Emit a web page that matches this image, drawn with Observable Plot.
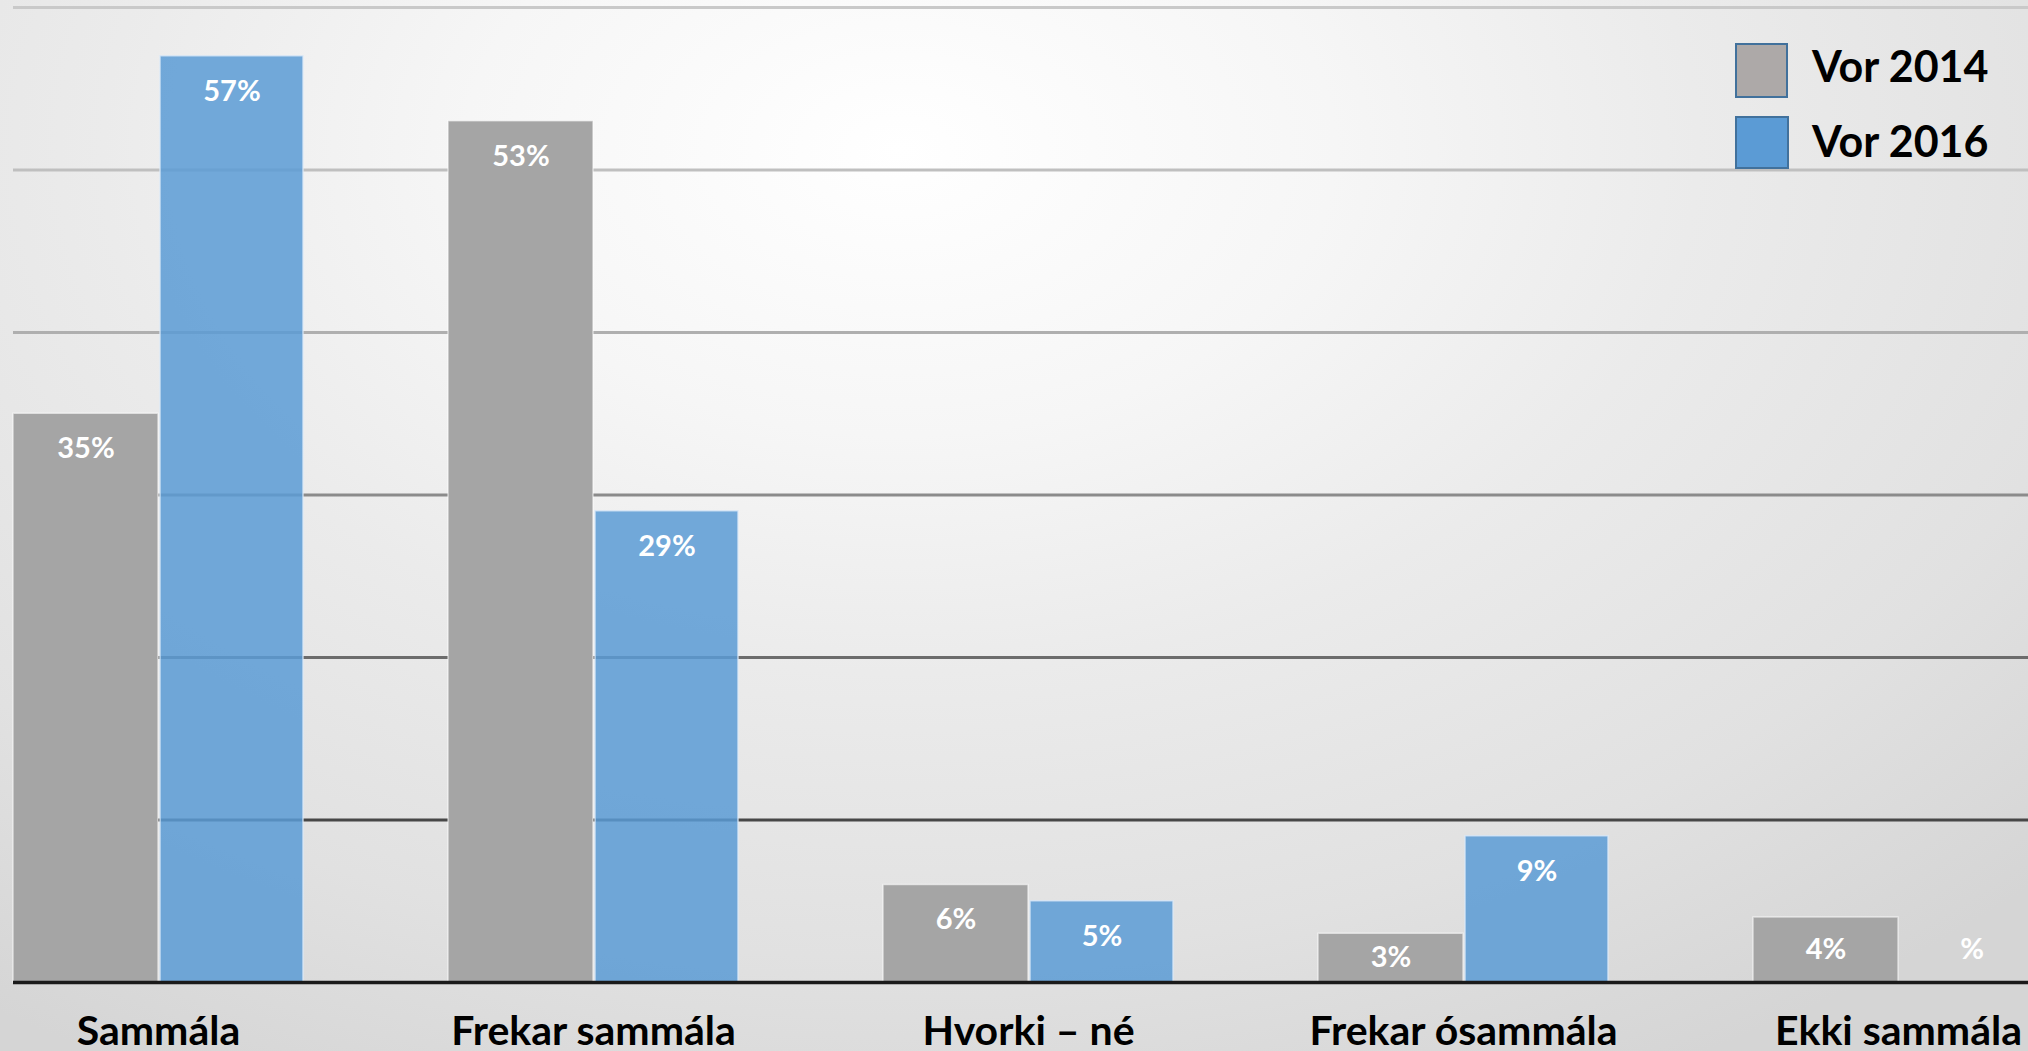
<!DOCTYPE html>
<html>
<head>
<meta charset="utf-8">
<script src="https://cdn.jsdelivr.net/npm/d3@7"></script>
<script src="https://cdn.jsdelivr.net/npm/@observablehq/plot@0.6"></script>
<style>
  html, body { margin: 0; padding: 0; overflow: hidden; }
  body {
    width: 2028px; height: 1051px; position: relative;
    background: radial-gradient(1450px 950px at 900px 150px, #ffffff 0%, #f6f6f6 30%, #ebebeb 55%, #e1e1e1 85%, #d5d5d5 110%);
    font-family: Lato, "Open Sans", sans-serif;
  }
  #chart { position: absolute; left: 0; top: 0; }
  .sw { position: absolute; box-sizing: border-box; border: 2px solid #41719C; }
  .lt { position: absolute; font: bold 43px/43px Lato, sans-serif; color: #000; white-space: nowrap; }
</style>
</head>
<body>
<div id="chart"></div>
<div class="sw" style="left:1735px;top:43px;width:53px;height:55px;background:#ADA9A8"></div>
<div class="lt" id="lt1" style="left:1812px;top:44px"></div>
<div class="sw" style="left:1735px;top:116px;width:54px;height:53px;background:#5B9BD5"></div>
<div class="lt" id="lt2" style="left:1812px;top:119px"></div>
<script>
const categories = ["Sammála", "Frekar sammála", "Hvorki – né", "Frekar ósammála", "Ekki sammála"];
const series = ["Vor 2014", "Vor 2016"];
const vor2014 = [35, 53, 6, 3, 4];
const vor2016 = [57, 29, 5, 9, null];
const gridTicks = [10, 20, 30, 40, 50, 60];

document.getElementById("lt1").textContent = series[0];
document.getElementById("lt2").textContent = series[1];

const rows = categories.flatMap((c, i) => [
  {category: c, series: series[0], value: vor2014[i], other: vor2016[i]},
  {category: c, series: series[1], value: vor2016[i], other: vor2014[i]}
]);
const gray = rows.filter(d => d.series === series[0]);
const blue = rows.filter(d => d.series === series[1]);

const gridColor = {10: "#474747", 20: "#6c6c6c", 30: "#8b8b8b", 40: "#afafaf", 50: "#bfbfbf", 60: "#c9c9c9"};

const H = 1051, mTop = 7, mBottom = 69;
const pxPerUnit = (H - mTop - mBottom) / 60;
const labelPad = 35 / pxPerUnit;
// label sits just inside the bar top, or at the bar's middle when the bar is short
const labelY = d => {
  const v = d.value ?? d.other;
  return v - Math.min(labelPad, v / 2);
};
const labelText = d => d.value == null ? "%" : `${d.value}%`;

const chart = Plot.plot({
  width: 2028,
  height: H,
  marginLeft: 13,
  marginRight: 0,
  marginTop: mTop,
  marginBottom: mBottom,
  style: {background: "transparent", fontFamily: "Lato, sans-serif", overflow: "visible"},
  x: {domain: categories, range: [13, 2045], paddingInner: 0.334, paddingOuter: 0, align: 0, axis: null},
  y: {domain: [0, 60], axis: null},
  marks: [
    Plot.ruleY(gridTicks, {y: d => d, stroke: d => gridColor[d], strokeWidth: 3}),
    Plot.barY(gray, {x: "category", y: "value", fill: "#A5A5A5", insetRight: 145, stroke: "white", strokeOpacity: 0.55, strokeWidth: 1.5}),
    Plot.barY(blue.filter(d => d.value != null), {x: "category", y: "value", fill: "#5B9BD5", fillOpacity: 0.85, insetLeft: 147, stroke: "#dbe9f7", strokeOpacity: 0.8, strokeWidth: 1.5}),
    Plot.ruleY([0], {stroke: "#1a1a1a", strokeWidth: 3.5}),
    Plot.text(gray, {x: "category", y: labelY, text: labelText, dx: -72.5, fill: "white", fontSize: 29, fontWeight: "bold"}),
    Plot.text(blue, {x: "category", y: labelY, text: labelText, dx: 73.5, fill: "white", fontSize: 29, fontWeight: "bold"}),
    Plot.text(categories, {x: d => d, y: () => 0, dy: 49, text: d => d, fill: "black", fontSize: 41, fontWeight: "bold"})
  ]
});
document.getElementById("chart").appendChild(chart);
</script>
</body>
</html>
